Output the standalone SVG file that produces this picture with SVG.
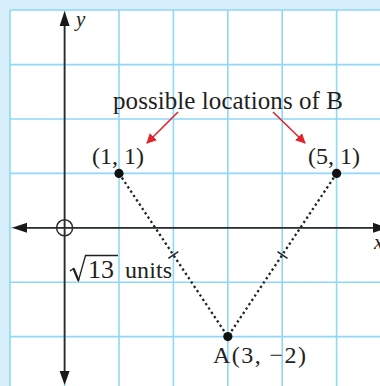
<svg xmlns="http://www.w3.org/2000/svg" width="380" height="386" viewBox="0 0 380 386">
<defs>
<style>
.grid{stroke:#8fd8f7;stroke-width:1.6;fill:none}
.axis{stroke:#2b2b2b;stroke-width:1.8;fill:none}
.dot{stroke:#222;stroke-width:2.3;stroke-dasharray:2.3 2.9;fill:none}
.tick{stroke:#222;stroke-width:1.4}
.red{stroke:#e0242b;stroke-width:1.6;fill:none}
.t{font-family:"Liberation Serif","Times New Roman",Times,serif;font-size:24px;fill:#231f20}
.it{font-style:italic;font-size:21px}
.pt{fill:#111}
</style>
<marker id="ra" viewBox="0 0 10 10" refX="9" refY="5" markerWidth="10" markerHeight="10" markerUnits="userSpaceOnUse" orient="auto">
<path d="M0,0 L10,5 L0,10 z" fill="#e0242b"/>
</marker>
</defs>
<rect x="0" y="0" width="380" height="386" fill="#d6eefa"/>
<rect x="10" y="10" width="370" height="376" fill="#ffffff"/>
<g id="grid" class="grid">
<path d="M10,10V386M64.6,10V386M119,10V386M173.4,10V386M227.8,10V386M282.2,10V386M336.6,10V386"/>
<path d="M10,10H380M10,64.6H380M10,119H380M10,173.4H380M10,227.8H380M10,282.2H380M10,336.6H380"/>
</g>
<g id="axes">
<line class="axis" x1="64.6" y1="24" x2="64.6" y2="372"/>
<line class="axis" x1="25" y1="227.8" x2="376" y2="227.8"/>
<path d="M64.6,11 L59.6,26 L69.6,26 z" fill="#1a1a1a"/>
<path d="M64.6,385 L59.6,371 L69.6,371 z" fill="#1a1a1a"/>
<path d="M12,227.8 L27,222.8 L27,232.8 z" fill="#1a1a1a"/>
<path d="M388,227.8 L373,222.8 L373,232.8 z" fill="#1a1a1a"/>
<circle cx="64.6" cy="227.8" r="8" fill="none" stroke="#2b2b2b" stroke-width="1.5"/>
<text class="t it" x="76" y="26">y</text>
<text class="t it" x="374" y="249">x</text>
</g>
<g id="connectors">
<line class="dot" x1="119" y1="173.4" x2="227.8" y2="336.6"/>
<line class="dot" x1="336.6" y1="173.4" x2="227.8" y2="336.6"/>
<line class="tick" x1="168.3" y1="258.4" x2="178.3" y2="251.6"/>
<line class="tick" x1="277.5" y1="251.6" x2="287.5" y2="258.4"/>
<line class="red" x1="178" y1="112" x2="147" y2="143" marker-end="url(#ra)"/>
<line class="red" x1="273" y1="112" x2="305" y2="143" marker-end="url(#ra)"/>
</g>
<g id="label-B">
<text class="t" x="113" y="109" style="font-size:25px" textLength="230" lengthAdjust="spacing">possible locations of B</text>
</g>
<g id="node-1-1">
<circle class="pt" cx="119" cy="173.4" r="4.6"/>
<text class="t" x="92" y="164" textLength="52" lengthAdjust="spacing">(1, 1)</text>
</g>
<g id="node-5-1">
<circle class="pt" cx="336.6" cy="173.4" r="4.6"/>
<text class="t" x="308" y="164" textLength="52" lengthAdjust="spacing">(5, 1)</text>
</g>
<g id="node-A">
<circle class="pt" cx="227.8" cy="336.6" r="4.6"/>
<text class="t" x="213" y="363" textLength="93" lengthAdjust="spacing">A(3, −2)</text>
</g>
<g id="label-len">
<path d="M70,271 L73.5,268.5 L78.5,280.5 L85.5,255.5 L118,255.5" fill="none" stroke="#231f20" stroke-width="1.3" stroke-linejoin="miter"/>
<path d="M73.5,268.5 L78.5,280.5" stroke="#231f20" stroke-width="2.2"/>
<text class="t" x="88" y="278" style="font-size:26px">13</text>
<text class="t" x="125" y="278" textLength="47" lengthAdjust="spacing">units</text>
</g>
</svg>
